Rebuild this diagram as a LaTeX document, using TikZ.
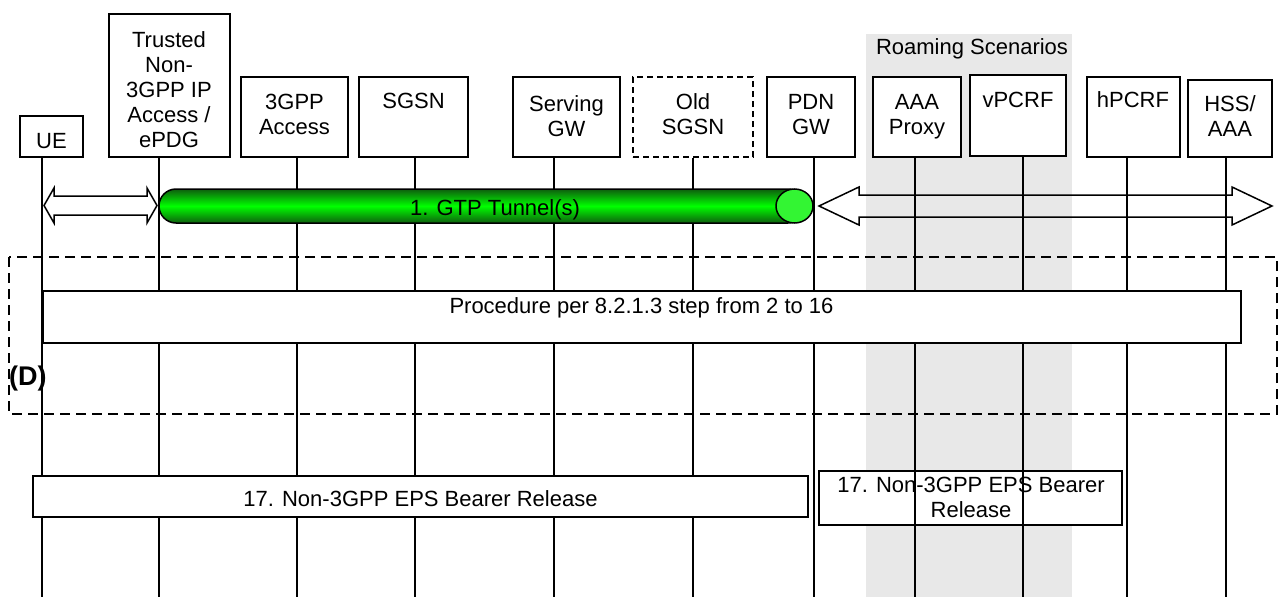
\documentclass[tikz,border=0pt]{standalone}
\usepackage{fontspec}
\setmainfont{Liberation Sans}
\definecolor{roam}{HTML}{E8E8E8}
\definecolor{tubedark}{HTML}{0E5E0E}
\definecolor{tubelight}{HTML}{00FF00}
\definecolor{capgreen}{HTML}{33F533}
\begin{document}
\begin{tikzpicture}[x=1pt,y=-1pt,
  every node/.style={font=\fontsize{22}{25}\selectfont, inner sep=0pt, align=center},
  hbox/.style={draw, line width=1.5pt, fill=white},
  life/.style={line width=1.5pt},
  txt/.style={},
  bar/.style={draw, line width=1.5pt, fill=white},
  hollow/.style={draw, line width=1.5pt, line join=miter},
]
\useasboundingbox (0,0) rectangle (1278,597);
% roaming background
\fill[roam] (866,34) rectangle (1072,597);
\node[txt] (roamtxt) at (972,49) {Roaming Scenarios};

% header boxes
\node[hbox, minimum width=63pt, minimum height=41pt] (ue) at (51.5,136.5) {};
\node[hbox, minimum width=121pt, minimum height=143pt] (tn) at (169.5,85.5) {};
\node[hbox, minimum width=107pt, minimum height=80pt] (ga) at (294.5,117) {};
\node[hbox, minimum width=109pt, minimum height=80pt] (sgsn) at (413.5,117) {};
\node[hbox, minimum width=107pt, minimum height=80pt] (sgw) at (566.5,117) {};
\node[hbox, dashed, dash pattern=on 6pt off 4pt, minimum width=120pt, minimum height=80pt] (osgsn) at (693,117) {};
\node[hbox, minimum width=88pt, minimum height=80pt] (pgw) at (811,117) {};
\node[hbox, minimum width=88pt, minimum height=80pt] (aaap) at (917,117) {};
\node[hbox, minimum width=96pt, minimum height=81pt] (vpcrf) at (1018,115.5) {};
\node[hbox, minimum width=93pt, minimum height=80pt] (hpcrf) at (1133.5,117) {};
\node[hbox, minimum width=84pt, minimum height=77pt] (hss) at (1230,118.5) {};

\node[txt] (uet) at (51.5,141) {UE};
\node[txt] (tnt) at (169,90) {Trusted\\Non-\\3GPP IP\\Access /\\ePDG};
\node[txt] (gat) at (294.5,114.5) {3GPP\\Access};
\node[txt] (sgsnt) at (413.5,100.5) {SGSN};
\node[txt] (sgwt) at (566.5,116) {Serving\\GW};
\node[txt] (osgsnt) at (693,114.5) {Old\\SGSN};
\node[txt] (pgwt) at (811,114.5) {PDN\\GW};
\node[txt] (aaapt) at (917,117) {AAA\\Proxy};
\node[txt] (vpcrft) at (1018,100) {vPCRF};
\node[txt] (hpcrft) at (1133,100) {hPCRF};
\node[txt] (hsst) at (1230,116.5) {HSS/\\AAA};

% bearer release box 2 (lifelines drawn over it)
\node[bar, minimum width=303pt, minimum height=54pt] (rel2) at (970.5,498) {};

% lifelines
\foreach \n/\x in {ue/42, tn/159, ga/297, sgsn/415, sgw/554, osgsn/693, pgw/814, aaap/915, vpcrf/1023, hpcrf/1127, hss/1226}{
  \coordinate (\n B) at (\x,597);
  \draw[life] (\n B |- \n.south) -- (\n B);
}

% left double arrow (UE <-> trusted)
\draw[hollow] (44,205.5) -- (54,188) -- (54,196) -- (147,196) -- (147,188) -- (157,205.5)
  -- (147,223) -- (147,215) -- (54,215) -- (54,223) -- cycle;
% right double arrow
\draw[hollow] (819,206) -- (859,187) -- (859,195) -- (1232,195) -- (1232,187) -- (1272,206)
  -- (1232,225) -- (1232,217) -- (859,217) -- (859,225) -- cycle;

% GTP tunnel
\shade[top color=tubedark, bottom color=tubedark, middle color=tubelight, rounded corners=17pt]
  (159,189) rectangle (805,223);
\draw[line width=1.5pt, rounded corners=17pt] (159,189) rectangle (805,223);
\filldraw[fill=capgreen, draw=black, line width=1.5pt] (794.5,206) ellipse [x radius=18.5pt, y radius=17pt];
\node[txt] (tunnel) at (495,210) {1. GTP Tunnel(s)};

% procedure box
\node[bar, minimum width=1198pt, minimum height=52pt] (proc) at (642,317) {};
\node[txt] (proct) at (641.5,308) {Procedure per 8.2.1.3 step from 2 to 16};

% dashed group (D)
\draw[line width=2pt, dash pattern=on 10pt off 6pt] (9,257) rectangle (1277,414);
\node[font=\fontsize{27}{30}\selectfont\bfseries, anchor=west] (dlab) at (9,379) {(D)};

% bearer release box 1
\node[bar, minimum width=775pt, minimum height=41pt] (rel1) at (420.5,496.5) {};
\node[txt] (rel1t) at (420.5,499) {17. Non-3GPP EPS Bearer Release};
\node[txt] (rel2t) at (971,497.5) {17. Non-3GPP EPS Bearer\\Release};
\end{tikzpicture}
\end{document}
